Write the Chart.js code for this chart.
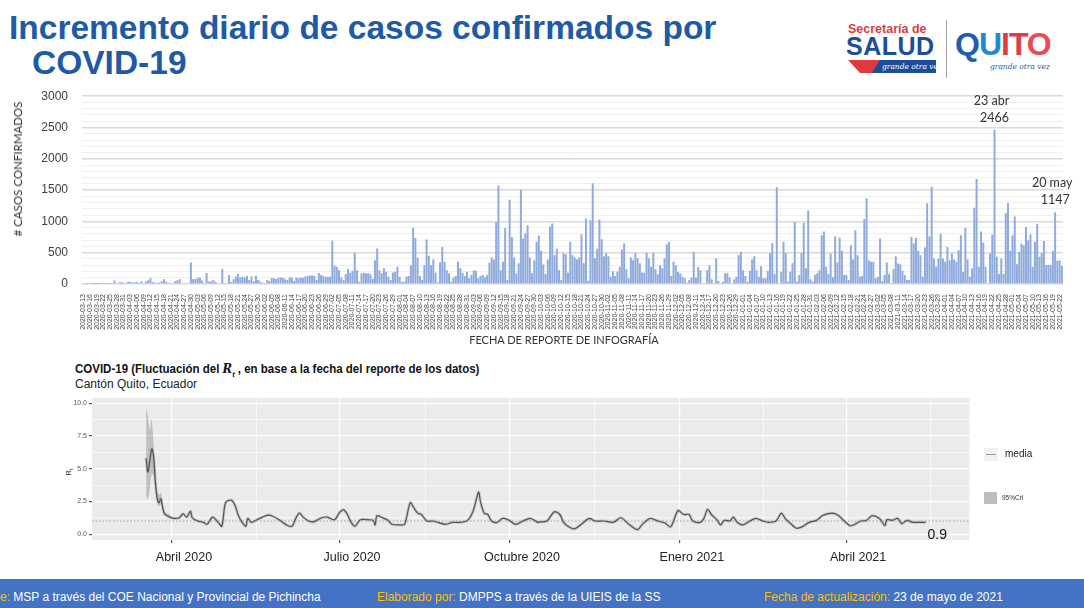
<!DOCTYPE html>
<html><head><meta charset="utf-8">
<script src="https://cdn.jsdelivr.net/npm/chart.js@4.4.1/dist/chart.umd.min.js"></script>
<style>
html,body{margin:0;padding:0;}
body{width:1084px;height:608px;background:#fff;position:relative;overflow:hidden;font-family:"Liberation Sans",Arial,sans-serif;}
.abs{position:absolute;white-space:nowrap;}
#t1{left:9px;top:9px;font-size:33.5px;font-weight:bold;color:#1f5aa6;line-height:38px;}
#t2{left:32px;top:44px;font-size:33.5px;font-weight:bold;color:#1f5aa6;line-height:38px;}
#c1{position:absolute;left:0;top:75px;}
#c2{position:absolute;left:0;top:390px;}
#yt1{left:18px;top:169px;font-family:Lato,sans-serif;font-size:11.5px;color:#333;transform:translate(-50%,-50%) rotate(-90deg);line-height:14px;}
#xt1{left:564px;top:340px;font-family:Lato,sans-serif;font-size:11px;color:#333;transform:translate(-50%,-50%);line-height:14px;}
#rtTitle{left:75px;top:361px;font-weight:bold;font-size:12.5px;color:#111;line-height:15px;transform:scaleX(0.92);transform-origin:left center;}
#rtSub{left:75px;top:377px;font-size:12px;color:#222;line-height:15px;}
#rtY{left:70px;top:472px;font-size:8px;color:#333;transform:translate(-50%,-50%) rotate(-90deg);line-height:10px;}
#footer{left:0;top:579px;width:1084px;height:29px;background:#4472c4;}
.ft{top:590px;font-size:12px;color:#fff;line-height:14px;}
.ft b{color:#ffc000;font-weight:normal;}
</style></head>
<body>
<div id="t1" class="abs">Incremento diario de casos confirmados por</div>
<div id="t2" class="abs">COVID-19</div>

<!-- logos (text approximations) -->
<div class="abs" style="left:848px;top:22px;font-size:12.5px;font-weight:bold;color:#e03a3e;line-height:15px;">Secretaría de</div>
<div class="abs" style="left:846px;top:32px;font-size:25px;font-weight:bold;color:#1b4d98;line-height:28px;letter-spacing:0.5px;">SALUD</div>
<div class="abs" style="left:848px;top:60px;width:40px;height:13px;background:#e03a3e;clip-path:polygon(0 0,100% 0,80% 100%,30% 100%);"></div>
<div class="abs" style="left:872px;top:60px;width:64px;height:13px;background:#1b4d98;clip-path:polygon(12% 0,100% 0,100% 100%,0 100%);"></div>
<div class="abs" style="left:882px;top:61px;font-size:7.5px;font-style:italic;color:#fff;line-height:11px;font-family:'DejaVu Serif',serif;">grande otra vez</div>
<div class="abs" style="left:946px;top:20px;width:1px;height:58px;background:#a0a0a0;"></div>
<div class="abs" style="left:955px;top:26px;font-size:32px;font-weight:bold;line-height:36px;letter-spacing:-1px;"><span style="color:#1d5fae">Q</span><span style="color:#1f8ad0">U</span><span style="color:#e23a47">I</span><span style="color:#e23a47">T</span><span style="color:#ea4a55">O</span></div>
<div class="abs" style="left:990px;top:62px;font-size:7.5px;font-style:italic;color:#1d5fae;line-height:10px;font-family:'DejaVu Serif',serif;">grande otra vez</div>

<canvas id="c1" width="1084" height="275"></canvas>
<div id="yt1" class="abs"># CASOS CONFIRMADOS</div>
<div id="xt1" class="abs">FECHA DE REPORTE DE INFOGRAFÍA</div>

<div id="rtTitle" class="abs">COVID-19 (Fluctuación del <i style="font-family:'DejaVu Serif',serif;">R</i><sub style="font-size:8px;font-style:italic;">t</sub> , en base a la fecha del reporte de los datos)</div>
<div id="rtSub" class="abs">Cantón Quito, Ecuador</div>
<div id="rtY" class="abs">R<sub style="font-size:6px">t</sub></div>

<canvas id="c2" width="1084" height="185"></canvas>

<!-- legend of Rt chart -->
<div class="abs" style="left:984px;top:448px;width:14px;height:13px;background:#f2f2f2;"></div>
<div class="abs" style="left:986px;top:454px;width:10px;height:1px;background:#9a9a9a;"></div>
<div class="abs" style="left:1005px;top:447px;font-size:10px;color:#222;line-height:14px;">media</div>
<div class="abs" style="left:984px;top:492px;width:13px;height:12px;background:#bdbdbd;"></div>
<div class="abs" style="left:1002px;top:494px;font-size:6.5px;color:#333;line-height:8px;">95%CrI</div>

<div id="footer" class="abs"></div>
<div class="abs ft" style="left:0px;"><b>e:</b> MSP a través del COE Nacional y Provincial de Pichincha</div>
<div class="abs ft" style="left:377px;"><b>Elaborado por:</b> DMPPS a través de la UIEIS de la SS</div>
<div class="abs ft" style="left:764px;"><b>Fecha de actualización:</b> 23 de mayo de 2021</div>

<script>
// ---------------- DATA ----------------
// daily confirmed cases, one value per report date starting 2020-03-13
const firstReportDate = [2020, 2, 13];
const dailyCases = [
0,0,1,0,2,1,3,2,18,20,
15,5,3,8,55,12,25,30,20,8,
35,35,25,28,30,15,45,12,40,60,
90,30,20,18,25,45,75,35,20,12,
15,45,60,75,0,0,0,0,345,75,
80,100,105,55,10,175,40,38,65,30,
10,0,240,0,10,143,30,75,120,160,
105,118,105,128,63,118,42,132,63,37,
20,10,63,48,90,90,80,100,105,100,
75,63,105,100,48,100,90,105,100,120,
127,137,137,127,63,175,143,127,117,
117,117,690,290,275,220,105,63,160,240,180,
210,500,220,37,170,180,170,170,155,80,
380,567,220,170,250,195,117,63,185,195,
275,117,37,37,117,127,300,900,735,425,
127,63,300,710,450,300,390,180,27,345,
590,355,220,170,37,105,127,355,250,180,
127,195,90,143,220,210,90,127,143,105,
143,340,425,390,990,1575,220,355,895,63,
1345,750,425,170,330,1505,725,805,940,425,
170,380,675,775,530,310,160,390,920,965,
460,565,220,63,490,475,180,675,460,425,
390,425,795,330,1045,53,1020,1610,410,565,
1030,715,445,490,445,117,205,127,195,275,
550,645,235,90,425,380,490,410,330,185,
180,500,410,275,500,235,155,300,250,410,
635,675,127,355,300,195,170,117,90,20,
63,105,515,100,275,220,10,10,220,300,
75,10,410,48,10,37,170,170,105,10,
75,117,460,515,220,127,37,210,390,445,
220,117,285,90,90,210,490,655,160,1545,
10,195,675,490,37,195,330,990,37,143,
490,980,250,1175,75,37,143,170,220,
778,840,275,160,487,106,762,344,740,530,143,
143,63,620,390,857,460,116,127,1040,1370,
380,354,354,90,116,725,48,143,344,160,
10,238,444,328,317,212,143,63,63,751,
645,740,530,460,116,582,1290,762,1555,407,
275,407,804,407,354,592,380,487,390,354,
540,778,196,900,390,116,250,1217,1677,275,
840,661,275,10,487,790,2466,434,160,407,
160,1132,1290,530,778,1080,317,513,645,620,
910,698,794,275,672,963,434,497,688,302,
302,302,530,1147,370,380,291
];
const annotDates = ['2021-04-23', '2021-05-20'];
const annotLabels = ['23 abr', '20 may'];
const caseGridValues = [];
for (let v = 0; v <= 3000; v += 100) caseGridValues.push(v);

// Rt: days counted from 1 April 2020
const rtDays = [-14,-13,-11,-10,-9,-8,-7,-6,-5,-4,-1,1,4,6,8,10,11,14,17,19,22,25,27,29,32,34,36,38,40,41,43,46,49,52,54,58,62,65,67,69,71,74,77,81,84,88,91,93,95,97,99,102,106,109,110,111,114,117,119,124,126,129,131,133,135,138,141,144,148,152,156,160,163,166,167,169,171,173,176,179,182,186,190,194,198,
199,203,207,210,212,215,218,222,226,229,234,239,243,247,252,255,259,263,267,270,274,277,280,282,286,288,290,292,295,297,299,302,304,306,309,313,316,320,323,327,330,332,335,338,341,345,349,352,355,358,361,364,367,369,373,376,379,383,386,387,390,393,395,398,401,405,408];
const rtValues = [5.8,4.75,6.5,6.0,4.0,2.75,2.4,2.7,2.0,1.55,1.3,1.2,1.25,1.55,1.3,1.75,1.25,1.0,0.9,0.75,1.3,0.9,0.6,2.4,2.6,2.25,1.4,0.9,0.6,1.2,0.9,1.1,1.3,1.45,1.4,1.1,0.7,0.6,1.2,1.6,1.3,1.0,0.95,1.25,1.3,1.1,1.7,1.85,1.5,0.9,0.6,1.1,1.1,1.05,0.7,1.4,1.25,1.05,0.75,0.7,0.75,2.4,2.0,1.6,1.5,1.0,1.0,0.9,0.75,0.9,0.9,1.05,1.75,3.2,2.5,1.6,1.5,1.0,0.9,1.2,1.1,0.75,1.0,1.2,0.9,
0.93,1.0,1.7,1.5,0.9,0.55,0.4,0.8,1.2,1.0,1.0,0.9,1.25,0.8,0.35,0.8,1.2,1.0,0.85,0.55,1.8,1.5,1.5,1.0,0.9,1.2,1.9,1.5,1.1,0.7,1.05,1.0,1.3,0.9,0.7,1.0,1.2,1.0,0.9,1.0,1.6,1.2,0.8,0.45,0.55,0.9,1.05,1.4,1.55,1.6,1.4,1.0,0.65,0.7,1.0,1.05,1.4,1.2,0.65,1.1,1.05,1.2,0.8,1.05,0.9,0.9,0.9];
// 95% credible interval (only visibly wide at the start)
const rtBandDays = [-14,-13,-12,-11,-10,-9,-8,-7,-6,-5,-4,-1];
const rtBandLow  = [2.9,2.7,3.5,4.6,4.5,3.3,2.3,2.1,2.3,1.8,1.4,1.15];
const rtBandHigh = [9.7,9.0,8.0,8.8,7.0,5.0,3.3,3.0,3.2,2.4,1.75,1.45];
const rtThreshold = 1;
const rtMonthDays = [0, 91, 183, 275, 365];
const rtMonthLabels = ['Abril 2020', 'Julio 2020', 'Octubre 2020', 'Enero 2021', 'Abril 2021'];
const rtMinorDays = [45.5, 137, 229, 320, 410.5];
const rtYMajor = [0, 2.5, 5, 7.5, 10];
const rtYMinor = [1.25, 3.75, 6.25, 8.75];
const rtXMin = -43.3, rtXMax = 431.8;

// ---------------- CHART 1 ----------------
const reportDates = dailyCases.map((_, i) => new Date(Date.UTC(firstReportDate[0], firstReportDate[1], firstReportDate[2] + i)).toISOString().slice(0, 10));

const annotPlugin = {
  id: 'annot',
  afterDatasetsDraw(chart) {
    const ctx = chart.ctx, xs = chart.scales.x, ys = chart.scales.y;
    ctx.save();
    ctx.fillStyle = '#333';
    ctx.font = '12.5px Lato, "Liberation Sans", sans-serif';
    ctx.textAlign = 'center';
    ctx.textBaseline = 'middle';
    annotDates.forEach((d, k) => {
      const i = reportDates.indexOf(d);
      if (i < 0) return;
      const x = xs.getPixelForValue(i), y = ys.getPixelForValue(dailyCases[i]);
      ctx.fillText(String(dailyCases[i]), x, y - 12);
      ctx.fillText(annotLabels[k], x - 3, y - 29);
    });
    ctx.restore();
  }
};

new Chart(document.getElementById('c1'), {
  type: 'bar',
  data: { labels: reportDates, datasets: [{ data: dailyCases, backgroundColor: '#8faadc', borderWidth: 0, categoryPercentage: 1, barPercentage: 0.88 }] },
  options: {
    responsive: false, animation: false, devicePixelRatio: 1,
    layout: { padding: { top: 0, right: 21, left: 0, bottom: 0 } },
    plugins: { legend: { display: false }, tooltip: { enabled: false } },
    scales: {
      x: {
        grid: { display: false }, border: { display: false },
        ticks: {
          autoSkip: false, minRotation: 90, maxRotation: 90, padding: 2,
          font: { size: 7, family: '"Liberation Sans", sans-serif' }, color: '#444',
          callback: function (v, i) { return i % 3 === 0 ? this.getLabelForValue(v) : ''; }
        },
        afterFit: s => { s.height = 66; }
      },
      y: {
        min: 0, max: 3000, border: { display: false },
        afterBuildTicks: s => { s.ticks = caseGridValues.map(v => ({ value: v })); },
        grid: {
          drawTicks: false,
          color: c => (c.tick && c.tick.value % 500 === 0) ? '#d9d9d9' : '#efefef',
          lineWidth: c => (c.tick && c.tick.value % 500 === 0) ? 1.5 : 1
        },
        ticks: { autoSkip: false, padding: 14, font: { size: 12, family: '"Liberation Sans", sans-serif' }, color: '#404040', callback: v => v % 500 === 0 ? String(v) : '' },
        afterFit: s => { s.width = 82; }
      }
    }
  },
  plugins: [annotPlugin]
});

// ---------------- CHART 2 ----------------
const rtPts = rtDays.map((d, i) => ({ x: d, y: rtValues[i] }));
const panelBg = {
  id: 'panelBg',
  beforeDraw(chart) {
    const a = chart.chartArea, ctx = chart.ctx;
    ctx.save(); ctx.fillStyle = '#ebebeb'; ctx.fillRect(a.left, a.top, a.right - a.left, a.bottom - a.top); ctx.restore();
  },
  afterDatasetsDraw(chart) {
    const ctx = chart.ctx, xs = chart.scales.x, ys = chart.scales.y;
    const n = rtDays.length - 1;
    ctx.save();
    ctx.fillStyle = '#111';
    ctx.font = '14px "Liberation Sans", sans-serif';
    ctx.textAlign = 'left'; ctx.textBaseline = 'middle';
    ctx.fillText(rtValues[n].toFixed(1), xs.getPixelForValue(rtDays[n]) + 2, ys.getPixelForValue(0) + 1);
    ctx.restore();
  }
};
const isMajorX = v => rtMonthDays.indexOf(v) >= 0;
const isMajorY = v => rtYMajor.indexOf(v) >= 0;

new Chart(document.getElementById('c2'), {
  type: 'line',
  data: {
    datasets: [
      { data: rtBandDays.map((d, i) => ({ x: d, y: rtBandLow[i] })), borderColor: 'rgba(0,0,0,0)', borderWidth: 0, pointRadius: 0, fill: false, tension: 0.3, order: 5 },
      { data: rtBandDays.map((d, i) => ({ x: d, y: rtBandHigh[i] })), borderColor: 'rgba(0,0,0,0)', borderWidth: 0, pointRadius: 0, fill: '-1', backgroundColor: 'rgba(150,150,150,0.5)', tension: 0.3, order: 4 },
      { data: rtPts, borderColor: 'rgba(160,160,160,0.45)', borderWidth: 3, pointRadius: 0, fill: false, tension: 0.3, order: 3 },
      { data: rtPts, borderColor: '#555555', borderWidth: 1.2, pointRadius: 0, fill: false, tension: 0.3, order: 1 },
      { data: [{ x: rtXMin, y: rtThreshold }, { x: rtXMax, y: rtThreshold }], borderColor: '#9a9a9a', borderWidth: 0.9, borderDash: [1.5, 2], pointRadius: 0, fill: false, order: 6 }
    ]
  },
  options: {
    responsive: false, animation: false, devicePixelRatio: 1,
    layout: { padding: { top: 8, right: 114.5, left: 0, bottom: 0 } },
    plugins: { legend: { display: false }, tooltip: { enabled: false } },
    scales: {
      x: {
        type: 'linear', min: rtXMin, max: rtXMax, border: { display: false },
        afterBuildTicks: s => { s.ticks = rtMonthDays.concat(rtMinorDays).sort((a, b) => a - b).map(v => ({ value: v })); },
        grid: {
          color: '#ffffff',
          lineWidth: c => (c.tick && isMajorX(c.tick.value)) ? 1.2 : 0.6,
          tickLength: 3,
          tickColor: c => (c.tick && isMajorX(c.tick.value)) ? '#555' : 'rgba(0,0,0,0)'
        },
        ticks: {
          autoSkip: false, maxRotation: 0, minRotation: 0, padding: 7, labelOffset: 12,
          font: { size: 12.5, family: '"Liberation Sans", sans-serif' }, color: '#222',
          callback: v => { const k = rtMonthDays.indexOf(v); return k >= 0 ? rtMonthLabels[k] : ''; }
        },
        afterFit: s => { s.height = 35; }
      },
      y: {
        min: -0.45, max: 10.4, border: { display: false },
        afterBuildTicks: s => { s.ticks = rtYMajor.concat(rtYMinor).sort((a, b) => a - b).map(v => ({ value: v })); },
        grid: {
          color: '#ffffff',
          lineWidth: c => (c.tick && isMajorY(c.tick.value)) ? 1.2 : 0.6,
          tickLength: 3,
          tickColor: c => (c.tick && isMajorY(c.tick.value)) ? '#555' : 'rgba(0,0,0,0)'
        },
        ticks: { autoSkip: false, padding: 2, font: { size: 7, family: '"Liberation Sans", sans-serif' }, color: '#555', callback: v => isMajorY(v) ? v.toFixed(1) : '' },
        afterFit: s => { s.width = 92; }
      }
    }
  },
  plugins: [panelBg]
});
</script>
</body></html>
